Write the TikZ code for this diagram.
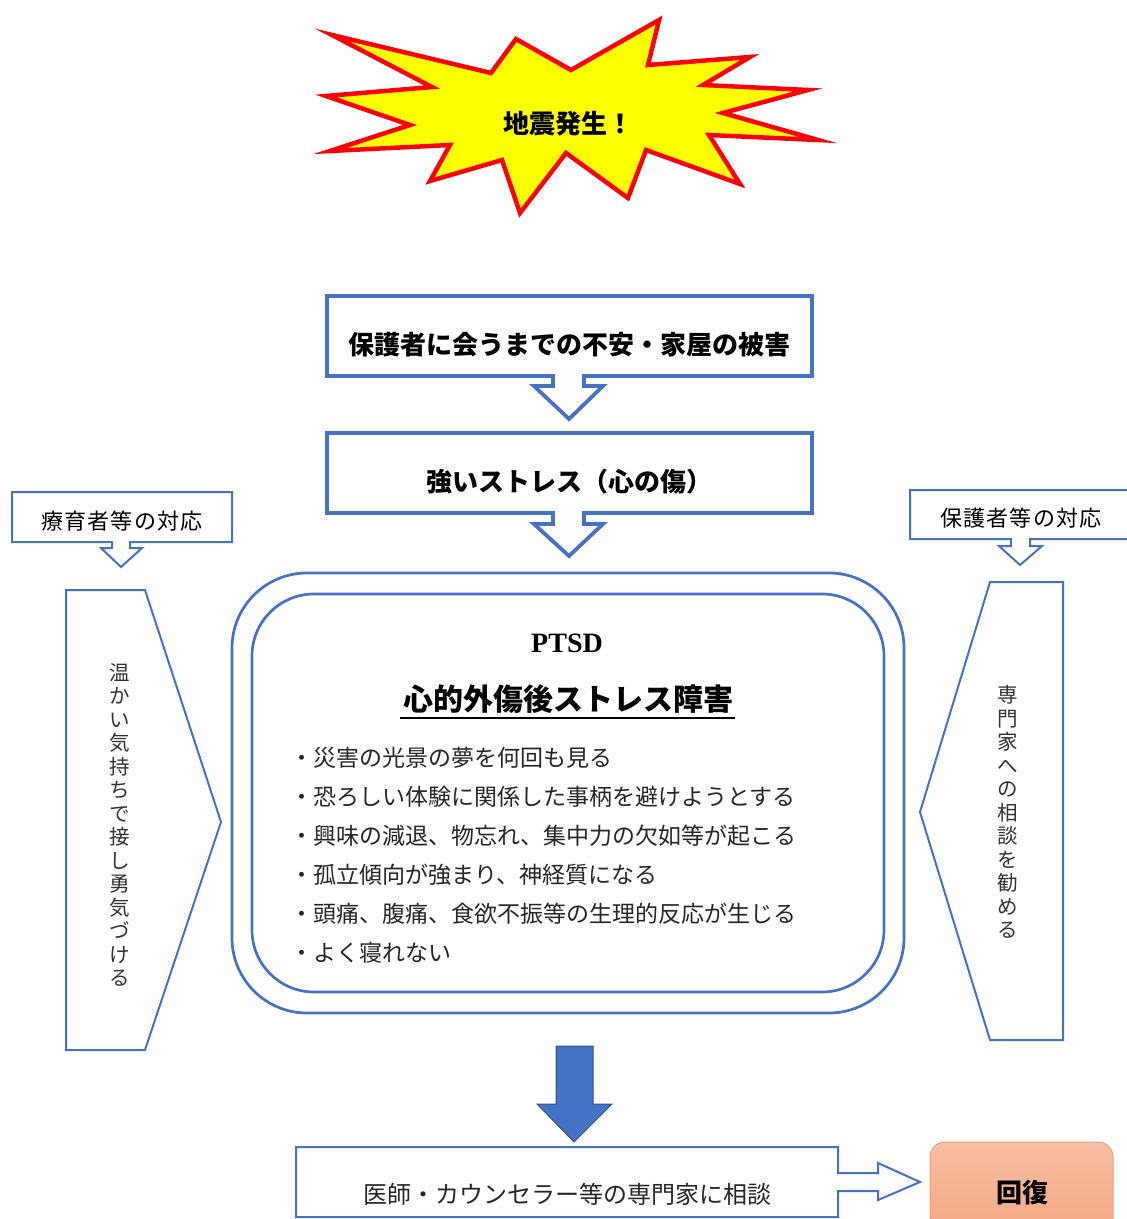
\documentclass[tikz,border=0pt]{standalone}
\usepackage{fontspec}
\setmainfont{Liberation Serif}
\newfontfamily\jp{Noto Sans CJK JP}
\newfontfamily\jpsp[LetterSpace=5]{Noto Sans CJK JP}
\definecolor{ublue}{HTML}{4472C4}
\definecolor{dblue}{HTML}{2F528F}
\definecolor{starred}{HTML}{FF0000}
\definecolor{staryel}{HTML}{FFFF00}
\definecolor{orbord}{HTML}{F0A070}
\definecolor{ortop}{HTML}{F7BFA3}
\definecolor{orbot}{HTML}{F4A57F}
\tikzset{
  thickbox/.style={draw=ublue,line width=3.8pt,line join=miter,fill=white},
  thinbox/.style={draw=ublue,line width=2pt,line join=miter,fill=white},
  jpbold/.style={font=\jp\bfseries\fontsize{#1}{#1}\selectfont,inner sep=0pt},
  jpreg/.style={font=\jp\fontsize{#1}{#1}\selectfont,inner sep=0pt},
  jpspaced/.style={font=\jpsp\fontsize{#1}{#1}\selectfont,inner sep=0pt},
  vtext/.style={font=\jp\fontsize{20.5}{23.5}\selectfont,align=center,inner sep=0pt,text=black!80},
}
\begin{document}
\begin{tikzpicture}[x=1pt,y=-1pt]
\useasboundingbox (0,0) rectangle (1127,1219);
\clip (0,0) rectangle (1127,1219);
% starburst
\draw[fill=staryel,draw=starred,line width=4.5pt,line join=miter,miter limit=20]
 (332,35) -- (491,73) -- (516,39) -- (571,70) -- (659,20) -- (648,65) -- (750,57)
 -- (703,85) -- (808,90) -- (723,113) -- (818,140) -- (709,135) -- (740,184)
 -- (646,150) -- (628,198) -- (566,153) -- (520,213) -- (502,160) -- (430,181)
 -- (450,145) -- (330,151) -- (410,125) -- (326,96) -- (432,87) -- cycle;
\node[jpbold=26] (quake) at (568,124) {地震発生！};

% box 1 with down arrow
\draw[thickbox] (327,296) -- (812,296) -- (812,376) -- (584,376) -- (584,386) -- (603,386)
 -- (569,419) -- (534,386) -- (553,386) -- (553,376) -- (327,376) -- cycle;
\node[jpbold=26] (anxiety) at (569,345) {保護者に会うまでの不安・家屋の被害};

% box 2 with down arrow
\draw[thickbox] (327,433) -- (812,433) -- (812,513) -- (584,513) -- (584,524) -- (603,524)
 -- (569,556) -- (534,524) -- (553,524) -- (553,513) -- (327,513) -- cycle;
\node[jpbold=26] (stress) at (569,482) {強いストレス（心の傷）};

% left small callout
\draw[thinbox] (12,492) -- (232,492) -- (232,542) -- (130,542) -- (130,548) -- (142,548)
 -- (121,567) -- (101,548) -- (112,548) -- (112,542) -- (12,542) -- cycle;
\node[jpspaced=22] (caregiver) at (122,521) {療育者等の対応};

% right small callout
\draw[thinbox] (910,490) -- (1130,490) -- (1130,539) -- (1030,539) -- (1030,546) -- (1042,546)
 -- (1020,565) -- (999,546) -- (1011,546) -- (1011,539) -- (910,539) -- cycle;
\node[jpspaced=22] (guardian) at (1021,518) {保護者等の対応};

% left pentagon
\draw[thinbox] (66,590) -- (145,590) -- (221,822) -- (145,1050) -- (66,1050) -- cycle;
\node[vtext] (warm) at (120,825) {温\\か\\い\\気\\持\\ち\\で\\接\\し\\勇\\気\\づ\\け\\る};

% right pentagon
\draw[thinbox] (990,582) -- (1063,582) -- (1063,1040) -- (990,1040) -- (920,812) -- cycle;
\node[vtext] (recommend) at (1008,812) {専\\門\\家\\へ\\の\\相\\談\\を\\勧\\め\\る};

% central double rounded rect
\draw[draw=ublue,line width=2.7pt,rounded corners=75pt] (232,573) rectangle (904,1013);
\draw[draw=ublue,line width=2.7pt,rounded corners=62pt] (252,594) rectangle (884,992);
\node[font=\bfseries\fontsize{28}{28}\selectfont,inner sep=0pt] (ptsd) at (567,643) {PTSD};
\node[jpbold=30] (ptsdjp) at (568,699) {心的外傷後ストレス障害};
\draw[line width=2pt] (400,718) -- (735,718);
\foreach \t [count=\i] in {・災害の光景の夢を何回も見る,
  ・恐ろしい体験に関係した事柄を避けようとする,
  ・興味の減退、物忘れ、集中力の欠如等が起こる,
  ・孤立傾向が強まり、神経質になる,
  ・頭痛、腹痛、食欲不振等の生理的反応が生じる,
  ・よく寝れない}
  \node[jpreg=23,anchor=west,text=black!85] (b\i) at (290,{758+39*(\i-1)}) {\t};

% filled down arrow
\draw[fill=ublue,draw=dblue,line width=1pt,line join=miter]
 (556,1046) -- (593,1046) -- (593,1104) -- (612,1104) -- (574,1142) -- (537,1104) -- (556,1104) -- cycle;

% bottom box with right arrow
\draw[draw=ublue,line width=2pt,line join=miter,fill=white]
 (296,1147) -- (838,1147) -- (838,1173) -- (878,1173) -- (878,1163) -- (920,1182)
 -- (878,1200) -- (878,1191) -- (838,1191) -- (838,1217) -- (296,1217) -- cycle;
\node[jpreg=24,text=black!85] (doctor) at (567,1194) {医師・カウンセラー等の専門家に相談};

% recovery box
\draw[draw=orbord,line width=1pt,top color=ortop,bottom color=orbot,rounded corners=15pt]
 (930,1142) rectangle (1113,1240);
\node[jpbold=26] (recovery) at (1022,1193) {回復};
\end{tikzpicture}
\end{document}
